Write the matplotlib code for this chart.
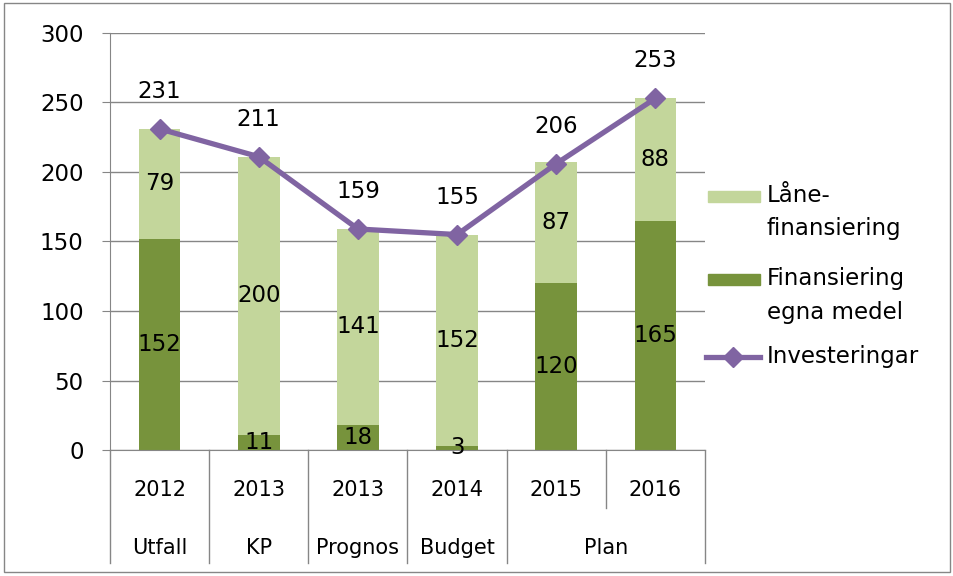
import matplotlib.pyplot as plt
from matplotlib.patches import Rectangle
import numpy as np

# Data
years = ['2012', '2013', '2013', '2014', '2015', '2016']
groups = ['Utfall', 'KP', 'Prognos', 'Budget', 'Plan']
group_spans = [(0, 0), (1, 1), (2, 2), (3, 3), (4, 5)]
egna = [152, 11, 18, 3, 120, 165]
lane = [79, 200, 141, 152, 87, 88]
invest = [231, 211, 159, 155, 206, 253]

c_light = '#C3D69B'
c_dark = '#77933C'
c_line = '#8064A2'
c_grid = '#868686'

plt.rcParams['font.family'] = ['DejaVu Sans']

fig = plt.figure(figsize=(9.54, 5.76), dpi=100)
ax = fig.add_axes([110 / 954, 1 - 450 / 576, 595 / 954, 417 / 576])

x = np.arange(len(years))
ax.bar(x, egna, width=0.42, color=c_dark, zorder=2)
ax.bar(x, lane, width=0.42, bottom=egna, color=c_light, zorder=2)
ax.plot(x, invest, color=c_line, lw=3.8, marker='D', ms=10, zorder=3)

# data labels
for i in range(len(x)):
    ax.text(x[i], egna[i] / 2, str(egna[i]), ha='center', va='center', fontsize=16.5, zorder=4)
    ax.text(x[i], egna[i] + lane[i] / 2, str(lane[i]), ha='center', va='center', fontsize=16.5, zorder=4)
    ax.annotate(str(invest[i]), (x[i], invest[i]), xytext=(0, 27), textcoords='offset points',
                ha='center', va='center', fontsize=16.5, zorder=4)

ax.set_xlim(-0.5, len(years) - 0.5)
ax.set_ylim(0, 300)
ax.set_yticks(range(0, 301, 50))
ax.tick_params(axis='y', labelsize=16.5, length=6, color=c_grid, pad=13)
ax.yaxis.grid(True, color=c_grid, lw=1)
ax.set_axisbelow(True)
for s in ['top', 'right']:
    ax.spines[s].set_visible(False)
for s in ['left', 'bottom']:
    ax.spines[s].set_color(c_grid)
ax.set_xticks([])

# two-level category axis
tr = ax.get_xaxis_transform()
for i, y in enumerate(years):
    ax.text(x[i], -0.096, y, transform=tr, ha='center', va='center', fontsize=15)
for g, (a, b) in zip(groups, group_spans):
    ax.text((a + b) / 2, -0.234, g, transform=tr, ha='center', va='center', fontsize=15)
# dividers
bounds = [-0.5] + [b + 0.5 for a, b in group_spans]
for bx in bounds:
    ax.plot([bx, bx], [0, -0.272], transform=tr, color=c_grid, lw=1, clip_on=False)
ax.plot([4.5, 4.5], [0, -0.14], transform=tr, color=c_grid, lw=1, clip_on=False)

# legend, drawn by hand (symbol sits next to the first line of each label)
lg = fig.add_axes([0, 0, 1, 1], zorder=5)
lg.set_xlim(0, 954)
lg.set_ylim(576, 0)
lg.axis('off')
lg.add_patch(Rectangle((708, 191), 52, 11, color=c_light))
lg.add_patch(Rectangle((708, 274), 52, 11, color=c_dark))
lg.plot([706, 760], [357, 357], color=c_line, lw=3.8)
lg.plot([733], [357], color=c_line, marker='D', ms=10)
leg_lines = [('Låne-', 195), ('finansiering', 229), ('Finansiering', 278),
             ('egna medel', 312), ('Investeringar', 357)]
for txt, yy in leg_lines:
    lg.text(767, yy, txt, ha='left', va='center', fontsize=16.5)

# chart border
lg.add_patch(Rectangle((4, 3), 946, 569, fill=False, edgecolor=c_grid, lw=1))

fig.savefig('out.png', dpi=100)
